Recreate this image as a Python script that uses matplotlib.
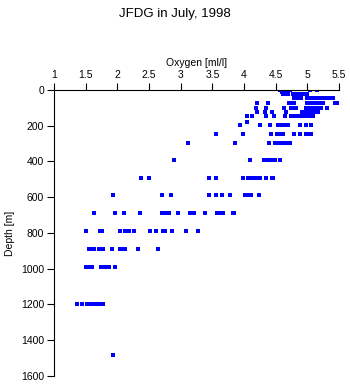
import matplotlib
matplotlib.use("Agg")
import matplotlib.pyplot as plt

# depth of each sampling row [m] and oxygen readings [ml/l] on that row
depths = [0, 11, 24, 48, 73, 99, 124, 148, 177, 198, 247, 296,
          394, 492, 590, 690, 790, 889, 989, 1195, 1485]

oxygen_rows = [
    [4.56, 4.59, 4.62, 4.65, 4.68, 4.71, 4.73, 5.04, 5.15],
    [4.60, 4.64, 4.68],
    [4.62, 4.66, 4.70, 4.77, 4.80, 4.84, 4.88, 4.92, 4.96, 5.00],
    [4.78, 4.82, 4.86, 4.90, 4.99, 5.03, 5.07, 5.10, 5.14, 5.17,
     5.20, 5.24, 5.28, 5.32, 5.36, 5.41],
    [4.20, 4.38, 4.71, 4.75, 4.78, 5.00, 5.04, 5.08, 5.14, 5.18,
     5.22, 5.25, 5.44, 5.47],
    [4.19, 4.34, 4.63, 4.74, 4.78, 4.82, 4.97, 5.03, 5.07, 5.12,
     5.16, 5.20, 5.22, 5.31],
    [4.21, 4.33, 4.44, 4.66, 4.92, 4.96, 5.00, 5.04, 5.08, 5.12, 5.17],
    [4.05, 4.12, 4.34, 4.48, 4.64, 4.74, 4.78, 4.81, 4.87, 4.91,
     4.95, 4.99, 5.03, 5.06, 5.09],
    [4.04],
    [3.94, 4.25, 4.41, 4.54, 4.58, 4.62, 4.66, 4.70, 4.88, 4.97, 5.06],
    [3.55, 3.99, 4.43, 4.52, 4.56, 4.59, 4.62, 4.79, 4.88, 4.98,
     5.02, 5.05],
    [3.11, 3.85, 4.39, 4.49, 4.53, 4.57, 4.61, 4.65, 4.69, 4.72],
    [2.90, 4.10, 4.31, 4.36, 4.40, 4.45, 4.49, 4.57],
    [2.38, 2.50, 3.44, 3.55, 3.99, 4.06, 4.12, 4.16, 4.20, 4.25,
     4.35, 4.44, 4.46],
    [1.94, 2.71, 2.85, 3.45, 3.55, 3.65, 3.78, 4.02, 4.04, 4.11, 4.24],
    [1.64, 1.97, 2.11, 2.36, 2.70, 2.75, 2.81, 2.96, 3.15, 3.21,
     3.39, 3.57, 3.61, 3.66, 3.82, 3.84],
    [1.51, 1.73, 1.76, 2.04, 2.12, 2.16, 2.19, 2.27, 2.52, 2.61,
     2.72, 2.76, 2.87, 3.08, 3.28],
    [1.55, 1.58, 1.64, 1.71, 1.75, 1.78, 1.91, 2.05, 2.09, 2.12,
     2.33, 2.65],
    [1.51, 1.54, 1.57, 1.60, 1.74, 1.78, 1.82, 1.87, 1.97],
    [1.37, 1.44, 1.52, 1.56, 1.60, 1.64, 1.68, 1.72, 1.78],
    [1.94],
]

x_ticks = [1, 1.5, 2, 2.5, 3, 3.5, 4, 4.5, 5, 5.5]
y_ticks = [0, 200, 400, 600, 800, 1000, 1200, 1400, 1600]

plt.rcParams["font.family"] = ["Liberation Sans", "DejaVu Sans"]

fig = plt.figure(figsize=(3.5, 3.84), dpi=100)
ax = fig.add_axes([0.154, 0.021, 0.815, 0.745])

ox = [v for row in oxygen_rows for v in row]
dp = [d for d, row in zip(depths, oxygen_rows) for _ in row]
ax.plot(ox, dp, linestyle="none", marker="s", markersize=2.6,
        color="#0000ff", markeredgewidth=0, antialiased=False)

ax.set_xlim(1, 5.5)
ax.set_ylim(1600, 0)
ax.set_xticks(x_ticks)
ax.set_xticklabels([f"{t:g}" for t in x_ticks])
ax.set_yticks(y_ticks)
ax.xaxis.set_ticks_position("top")
ax.xaxis.set_label_position("top")
ax.tick_params(direction="out", length=5, width=0.8, labelsize=7.5, pad=2)
ax.spines["right"].set_visible(False)
ax.spines["bottom"].set_visible(False)
for s in ("left", "top"):
    ax.spines[s].set_linewidth(0.8)

ax.set_xlabel("Oxygen [ml/l]", fontsize=7.5, labelpad=3)
ax.set_ylabel("Depth [m]", fontsize=7.5, labelpad=4)
fig.suptitle("JFDG in July, 1998", fontsize=9.5, y=0.98)

fig.savefig("out.png", dpi=100)
